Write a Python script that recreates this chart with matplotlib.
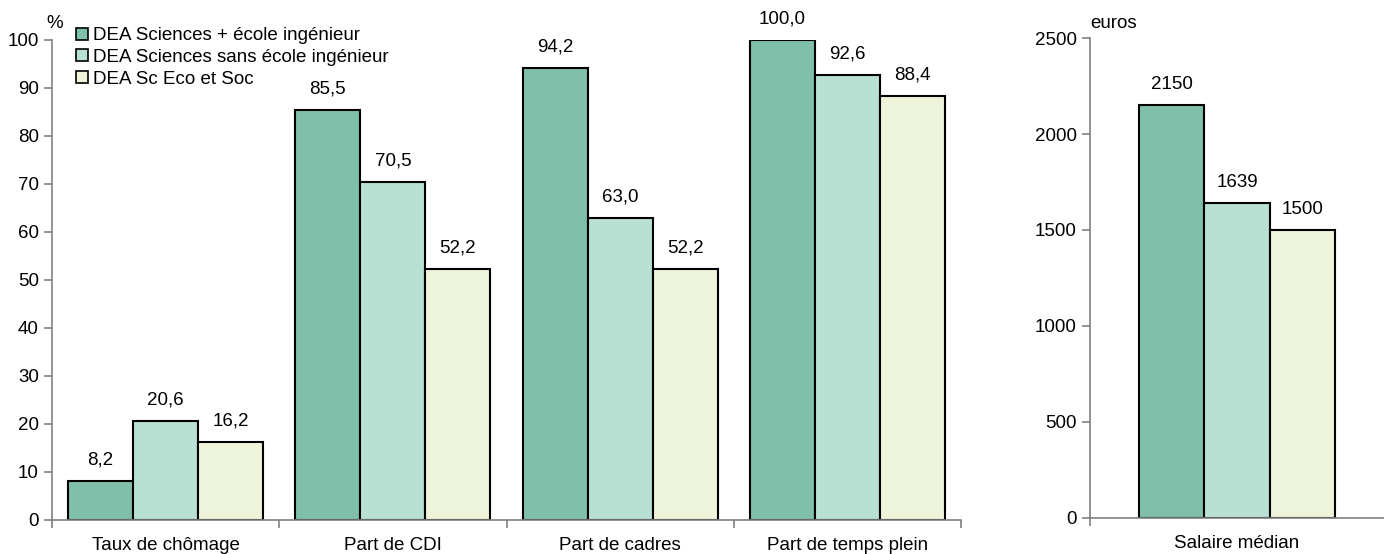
import numpy as np
import matplotlib
matplotlib.use("Agg")
from matplotlib import pyplot as plt
from matplotlib.patches import Patch

plt.rcParams['font.family'] = ['Liberation Sans', 'DejaVu Sans']
plt.rcParams['font.size'] = 13.5

categories = ['Taux de chômage', 'Part de CDI', 'Part de cadres', 'Part de temps plein']
series = ['DEA Sciences + école ingénieur', 'DEA Sciences sans école ingénieur', 'DEA Sc Eco et Soc']
pct_values = [
    [8.2, 85.5, 94.2, 100.0],
    [20.6, 70.5, 63.0, 92.6],
    [16.2, 52.2, 52.2, 88.4],
]
salary_label = 'Salaire médian'
salary_values = [2150, 1639, 1500]
colors = ['#80c0aa', '#b8e0d3', '#eef4da']
grey = '#808080'
fs = 13.5

fig = plt.figure(figsize=(13.84, 5.54), dpi=100)
ax = fig.add_axes([0.0376, 0.0614, 0.6568, 0.8666])
ax2 = fig.add_axes([0.7876, 0.065, 0.2124, 0.8664])


def style_axis(a):
    for side in ('top', 'right'):
        a.spines[side].set_visible(False)
    for side in ('left', 'bottom'):
        a.spines[side].set_color(grey)
        a.spines[side].set_linewidth(1.2)
    a.tick_params(axis='y', direction='out', length=6, color=grey, width=1.2, labelsize=fs)
    a.tick_params(axis='x', which='major', direction='out', length=6, color=grey, width=1.2)
    a.tick_params(axis='x', which='minor', length=0, labelsize=fs, pad=12)


# percentages
x = np.arange(len(categories))
w = 0.286
for i, vals in enumerate(pct_values):
    pos = x + (i - 1) * w
    ax.bar(pos, vals, width=w, color=colors[i], edgecolor='black', linewidth=1.5)
    for p, v in zip(pos, vals):
        ax.text(p, v + 2.6, f'{v:.1f}'.replace('.', ','), ha='center', va='bottom', fontsize=fs)
ax.set_xlim(-0.5, len(categories) - 0.5)
ax.set_ylim(0, 100)
ax.set_yticks(np.arange(0, 101, 10))
ax.set_xticks(np.arange(-0.5, len(categories), 1.0))
ax.set_xticklabels([])
ax.set_xticks(x, minor=True)
ax.set_xticklabels(categories, minor=True)
style_axis(ax)
ax.text(-0.487, 101.6, '%', ha='center', va='bottom', fontsize=fs)

handles = [Patch(facecolor=c, edgecolor='black', linewidth=1.2) for c in colors]
ax.legend(handles, series, loc='upper left', bbox_to_anchor=(0.0185, 1.042), frameon=False,
          handlelength=0.6, handleheight=0.6, handletextpad=0.3, labelspacing=0.25,
          borderaxespad=0, fontsize=fs)

# salary
w2 = 0.222
for i, v in enumerate(salary_values):
    p = (i - 1) * w2
    ax2.bar(p, v, width=w2, color=colors[i], edgecolor='black', linewidth=1.5)
    ax2.text(p, v + 65, f'{v}', ha='center', va='bottom', fontsize=fs)
ax2.set_xlim(-0.5, 0.5)
ax2.set_ylim(0, 2500)
ax2.set_yticks(np.arange(0, 2501, 500))
ax2.set_xticks([-0.5])
ax2.set_xticklabels([])
ax2.set_xticks([0], minor=True)
ax2.set_xticklabels([salary_label], minor=True)
style_axis(ax2)
ax2.text(-0.42, 2532, 'euros', ha='center', va='bottom', fontsize=fs)

fig.savefig('out.png', dpi=100)
